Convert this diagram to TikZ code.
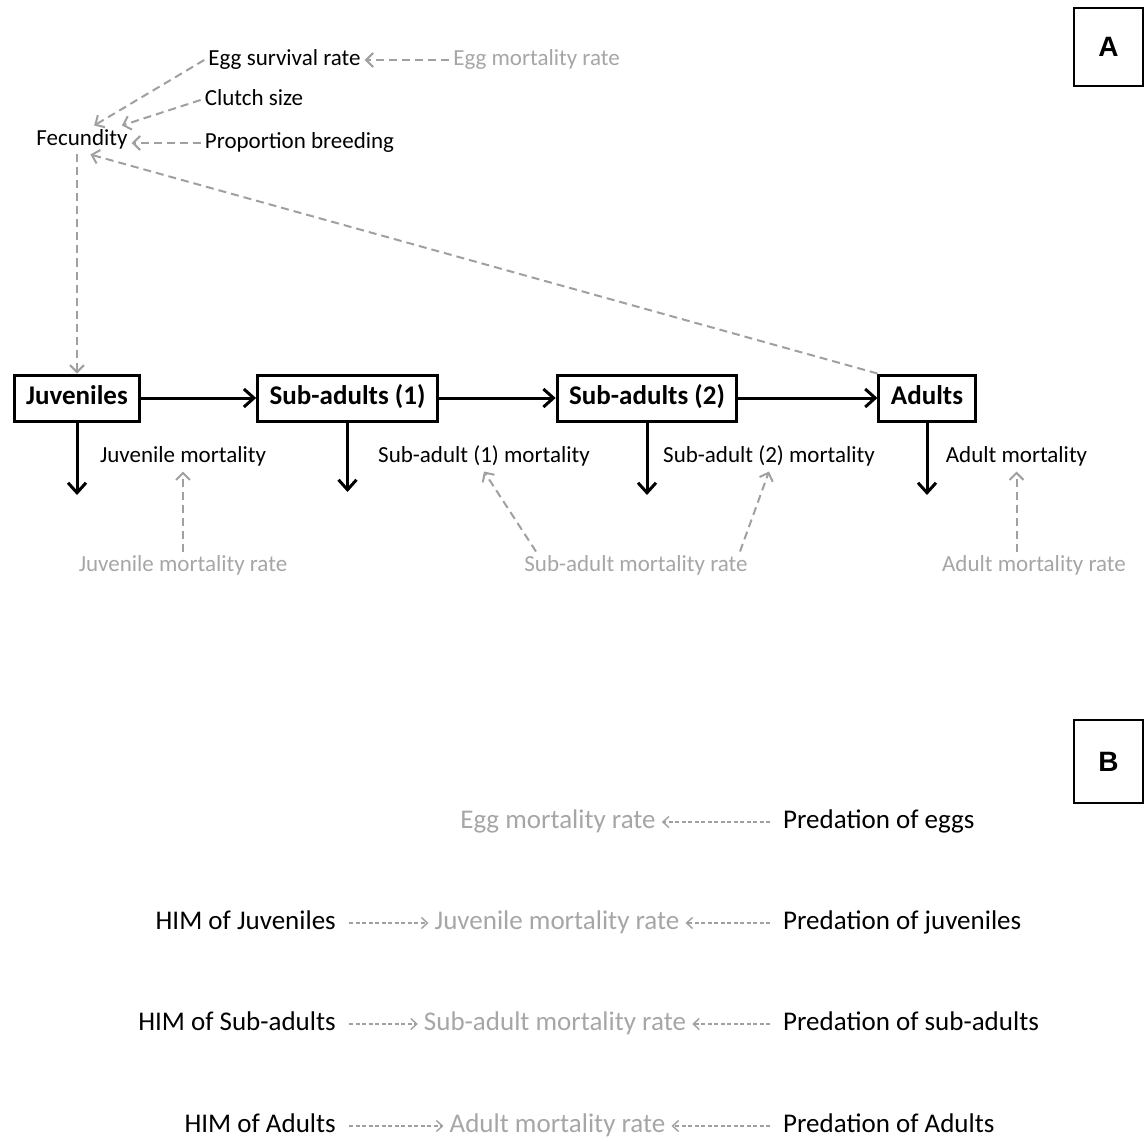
\documentclass[tikz,border=0pt]{standalone}
\usepackage{fontspec}
\setmainfont{Carlito}
\newfontfamily\panelfont{Liberation Sans}
\usetikzlibrary{arrows.meta,calc}
\definecolor{lightgrey}{HTML}{A6A6A6}
\definecolor{dashgrey}{HTML}{A0A0A0}
\tikzset{
  txt/.style={inner sep=4pt,text height=16pt,text depth=4.6pt,font=\fontsize{23}{27}\selectfont},
  greytxt/.style={txt,text=lightgrey},
  bigtxt/.style={inner sep=6pt,text height=19pt,text depth=5.4pt,font=\fontsize{27}{31}\selectfont},
  biggrey/.style={bigtxt,text=lightgrey},
  stage/.style={draw,line width=3pt,inner xsep=12pt,text height=19pt,text depth=5.4pt,minimum height=46pt,font=\fontsize{27}{31}\selectfont\bfseries},
  panel/.style={draw,line width=1.2pt,minimum width=69pt,font=\panelfont\fontsize{28}{32}\selectfont\bfseries},
  flow/.style={line width=3pt,-{Straight Barb[length=10pt,width=18pt]}},
  link/.style={dashgrey,line width=2pt,dash pattern=on 8pt off 5pt,-{Straight Barb[length=7pt,width=14pt]}},
  effect/.style={dashgrey,line width=1.4pt,dash pattern=on 4pt off 2.5pt,shorten <=7pt,-{Straight Barb[length=6pt,width=11pt]}}
}
\begin{document}
\begin{tikzpicture}[x=1pt,y=-1pt]
			\useasboundingbox (0,0) rectangle (1146,1142);
			\node[panel,minimum height=78pt] at (1108.5,47) (pA) {A};
			\node[panel,minimum height=83pt] at (1108.5,761.5) (pB) {B};

			\node[txt] at (284.5,60) (egg) {Egg survival rate};
			\node[greytxt] at (536.5,60) (eggm) {Egg mortality rate};
			\node[txt] at (254,100) (clutch) {Clutch size};
			\node[txt] at (299.5,143) (prop) {Proportion breeding};
			\node[txt] at (82,140) (fec) {Fecundity};
			\draw[link] (eggm)--(egg);
			\draw[link] (egg.west)--(fec.50);
			\draw[link] (clutch.west)--(fec.20);
			\draw[link] (prop.west)--(prop.west -| fec.east);

			\node[stage] at (77,398) (juv) {Juveniles};
			\node[stage] at (347.5,398) (sub1) {Sub-adults (1)};
			\node[stage] at (647,398) (sub2) {Sub-adults (2)};
			\node[stage] at (927,398) (adu) {Adults};
			\draw[flow] (juv)--(sub1);
			\draw[flow] (sub1)--(sub2);
			\draw[flow] (sub2)--(adu);
			\draw[link] (adu.north west)--(fec.-60);
			\draw[link] (fec.south -| juv.north)--(juv.north);

			\coordinate (jd) at (77,495);
			\coordinate (s1d) at (347.5,492);
			\coordinate (s2d) at (647,495);
			\coordinate (ad) at (927,495);
			\draw[flow] (juv.south)--(jd);
			\draw[flow] (sub1.south)--(s1d);
			\draw[flow] (sub2.south)--(s2d);
			\draw[flow] (adu.south)--(ad);

			\node[txt] at (183,457) (jm) {Juvenile mortality};
			\node[txt] at (484,457) (s1m) {Sub-adult (1) mortality};
			\node[txt] at (769,457) (s2m) {Sub-adult (2) mortality};
			\node[txt] at (1016.5,457) (am) {Adult mortality};
			\node[greytxt] at (183,566) (jmr) {Juvenile mortality rate};
			\node[greytxt] at (636,566) (smr) {Sub-adult mortality rate};
			\node[greytxt] at (1034,566) (amr) {Adult mortality rate};
			\draw[link] (jmr.north)--(jm.south);
			\draw[link] ($(smr.north)+(-100,0)$)--(s1m.south);
			\draw[link] ($(smr.north)+(104,0)$)--(s2m.south);
			\draw[link] (amr.north -| am.south)--(am.south);

			\node[bigtxt,anchor=west] at (777,822) (pe) {Predation of eggs};
			\node[biggrey] at (558,822) (em) {Egg mortality rate};
			\draw[effect] (pe)--(em);

			\node[bigtxt,anchor=east] at (342,923) (hj) {HIM of Juveniles};
			\node[biggrey] at (557,923) (jr) {Juvenile mortality rate};
			\node[bigtxt,anchor=west] at (777,923) (pj) {Predation of juveniles};
			\draw[effect] (hj)--(jr);
			\draw[effect] (pj)--(jr);

			\node[bigtxt,anchor=east] at (342,1024) (hs) {HIM of Sub-adults};
			\node[biggrey] at (555,1024) (sr) {Sub-adult mortality rate};
			\node[bigtxt,anchor=west] at (777,1024) (ps) {Predation of sub-adults};
			\draw[effect] (hs)--(sr);
			\draw[effect] (ps)--(sr);

			\node[bigtxt,anchor=east] at (342,1126) (ha) {HIM of Adults};
			\node[biggrey] at (557.5,1126) (ar) {Adult mortality rate};
			\node[bigtxt,anchor=west] at (777,1126) (pa) {Predation of Adults};
			\draw[effect] (ha)--(ar);
			\draw[effect] (pa)--(ar);
		\end{tikzpicture}
\end{document}
